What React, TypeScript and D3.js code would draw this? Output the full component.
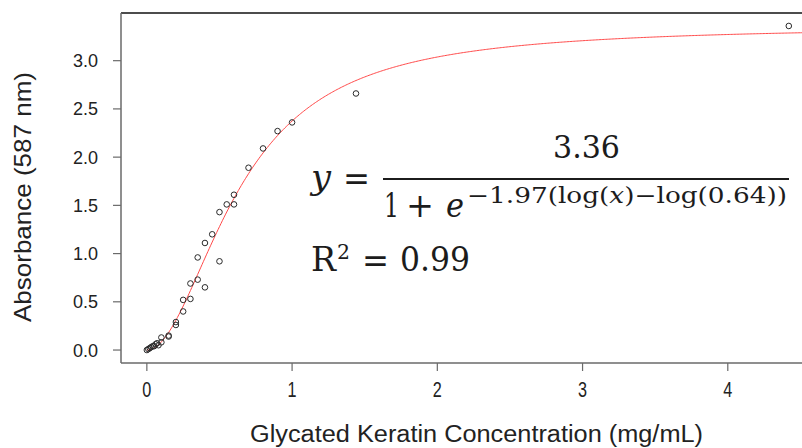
import * as d3 from "d3";

const W = 802;
const H = 448;

// measured points: concentration (mg/mL) and absorbance
const concentration = [
  0.0, 0.01, 0.02, 0.03, 0.04, 0.05, 0.06, 0.07, 0.08, 0.1, 0.1, 0.15, 0.15,
  0.2, 0.2, 0.25, 0.25, 0.3, 0.3, 0.35, 0.35, 0.4, 0.4, 0.45, 0.5, 0.5, 0.55,
  0.6, 0.6, 0.7, 0.8, 0.9, 1.0, 1.44, 4.42,
];
const absorbance = [
  0.0, 0.01, 0.02, 0.03, 0.04, 0.04, 0.06, 0.07, 0.05, 0.08, 0.13, 0.14, 0.15,
  0.26, 0.29, 0.4, 0.52, 0.53, 0.69, 0.73, 0.96, 0.65, 1.11, 1.2, 0.92, 1.43,
  1.51, 1.51, 1.61, 1.89, 2.09, 2.27, 2.36, 2.66, 3.36,
];

// fitted logistic parameters shown on the chart
const FIT_TOP = 3.36;
const FIT_SLOPE = 1.97;
const FIT_MID = 0.64;

const xTicks = [0, 1, 2, 3, 4];
const yTicks = [0, 0.5, 1, 1.5, 2, 2.5, 3];

const AXIS_GRAY = "#6a6a6a";
const SANS = "'Liberation Sans', Arial, Helvetica, sans-serif";
const SERIF = "'DejaVu Serif', 'Liberation Serif', serif";

export default function App() {
  const left = 121;
  const top = 13;
  const bottom = 363;

  const x = d3.scaleLinear().domain([-0.178, 4.628]).range([left, 819]);
  const y = d3.scaleLinear().domain([-0.1344, 3.4944]).range([bottom, top]);

  const fit = (c: number) =>
    c <= 0 ? 0 : FIT_TOP / (1 + Math.exp(-FIT_SLOPE * (Math.log(c) - Math.log(FIT_MID))));

  const curveX = d3.range(0, 4.63, 0.01);
  const line = d3
    .line<number>()
    .x((d) => x(d))
    .y((d) => y(fit(d)));

  const pts = concentration.map((c, i) => ({ c, a: absorbance[i] }));
  const txt = "#1c1c1c";

  return (
    <svg
      width={W}
      height={H}
      style={{ position: "absolute", left: 0, top: 0, display: "block", background: "#fff" }}
    >
      <rect width={W} height={H} fill="#fff" />

      {/* frame */}
      <line x1={left} x2={W} y1={top} y2={top} stroke="#111" strokeWidth={1.5} />
      <line x1={left} x2={left} y1={top} y2={bottom} stroke={AXIS_GRAY} strokeWidth={1.5} />
      <line x1={left} x2={W} y1={bottom} y2={bottom} stroke={AXIS_GRAY} strokeWidth={1.5} />

      {/* y axis */}
      {yTicks.map((t) => (
        <g key={"y" + t}>
          <line x1={left - 8} x2={left} y1={y(t)} y2={y(t)} stroke={AXIS_GRAY} strokeWidth={1.2} />
          <text
            x={98}
            y={y(t)}
            dy="0.36em"
            textAnchor="end"
            fontFamily={SANS}
            fontSize={18}
            fill="#222"
          >
            {d3.format(".1f")(t)}
          </text>
        </g>
      ))}

      {/* x axis */}
      {xTicks.map((t) => (
        <g key={"x" + t}>
          <line x1={x(t)} x2={x(t)} y1={bottom} y2={bottom + 8} stroke={AXIS_GRAY} strokeWidth={1.2} />
          <text
            transform={`translate(${x(t)},397) scale(0.9,1.2)`}
            textAnchor="middle"
            fontFamily={SANS}
            fontSize={18}
            fill="#222"
          >
            {t}
          </text>
        </g>
      ))}

      <text
        x={250}
        y={442}
        fontFamily={SANS}
        fontSize={23}
        fill="#222"
        textLength={453}
        lengthAdjust="spacingAndGlyphs"
      >
        Glycated Keratin Concentration (mg/mL)
      </text>
      <text
        transform={`translate(31,${322}) rotate(-90)`}
        fontFamily={SANS}
        fontSize={24}
        fill="#222"
        textLength={250}
        lengthAdjust="spacingAndGlyphs"
      >
        Absorbance (587 nm)
      </text>

      {/* fitted curve */}
      <path d={line(curveX) ?? ""} fill="none" stroke="#ff4a4a" strokeWidth={1} />

      {/* points */}
      {pts.map((p, i) => (
        <circle
          key={i}
          cx={x(p.c)}
          cy={y(p.a)}
          r={2.8}
          fill="none"
          stroke="#2a2a2a"
          strokeWidth={1}
        />
      ))}

      {/* equation */}
      <g fontFamily={SERIF} fill={txt}>
        <text x={311} y={189} fontSize={33} fontStyle="italic" textLength={20} lengthAdjust="spacingAndGlyphs">
          y
        </text>
        <text x={343} y={190} fontSize={33} textLength={27} lengthAdjust="spacingAndGlyphs">
          =
        </text>
        <text x={553} y={158} fontSize={32} textLength={67} lengthAdjust="spacingAndGlyphs">
          3.36
        </text>
        <line x1={383} x2={789} y1={179} y2={179} stroke={txt} strokeWidth={2} />
        <text x={384} y={217} fontSize={33} textLength={15} lengthAdjust="spacingAndGlyphs">
          1
        </text>
        <text x={406} y={217} fontSize={33} textLength={28} lengthAdjust="spacingAndGlyphs">
          +
        </text>
        <text x={446} y={217} fontSize={33} fontStyle="italic" textLength={18} lengthAdjust="spacingAndGlyphs">
          e
        </text>
        <text x={467} y={203} fontSize={22} textLength={320} lengthAdjust="spacingAndGlyphs">
          −1.97(log(<tspan fontStyle="italic">x</tspan>)−log(0.64))
        </text>

        <text x={311} y={271} fontSize={34} textLength={25} lengthAdjust="spacingAndGlyphs">
          R
        </text>
        <text x={337} y={259} fontSize={20} textLength={13} lengthAdjust="spacingAndGlyphs">
          2
        </text>
        <text x={362} y={272} fontSize={33} textLength={27} lengthAdjust="spacingAndGlyphs">
          =
        </text>
        <text x={400} y={271} fontSize={34} textLength={70} lengthAdjust="spacingAndGlyphs">
          0.99
        </text>
      </g>
    </svg>
  );
}
